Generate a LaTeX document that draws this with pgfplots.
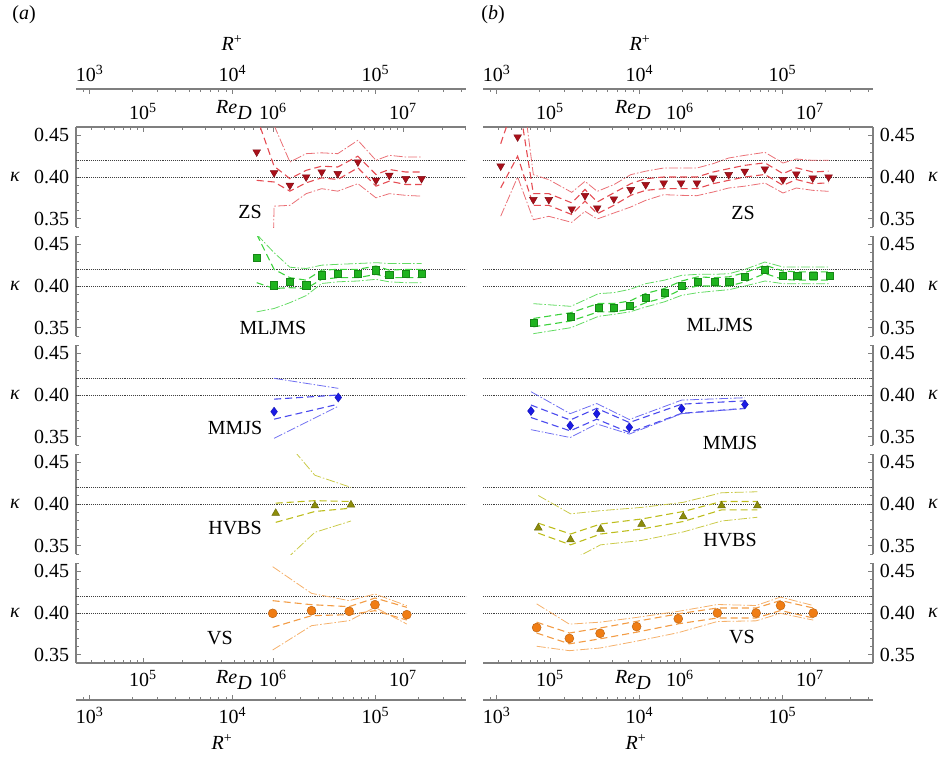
\documentclass[border=0pt]{standalone}
\usepackage{fontspec}
\setmainfont{Liberation Serif}
\usepackage{pgfplots}
\usepackage{pgfplotstable}
\pgfplotsset{compat=1.18}

% columns: Re, kappa, inner upper/lower (dashed), outer upper/lower (dash-dot)
\pgfplotstableread{
Re     k      iu     il     ou     ol
7.5e5  0.430  0.472  0.396  nan    nan
1.0e6  nan    nan    nan    nan    0.300
1.02e6 0.405  0.413  0.394  0.462  0.365
1.35e6 0.390  0.398  0.383  0.418  0.366
1.8e6  0.400  0.408  0.393  0.428  0.380
2.37e6 0.406  0.413  0.399  0.429  0.386
3.15e6 0.404  0.412  0.397  0.428  0.383
4.5e6  0.418  0.425  0.411  0.444  0.392
6.2e6  0.396  0.403  0.389  0.420  0.375
7.85e6 0.402  0.409  0.395  0.426  0.380
1.05e7 0.398  0.406  0.391  0.424  0.378
1.39e7 0.398  0.406  0.391  0.424  0.377
}\zsA
\pgfplotstableread{
Re     k      iu     il     ou     ol
7.5e5  0.434  0.462  0.404  0.462  0.369
1.02e6 0.401  0.420  0.397  0.440  0.373
1.35e6 0.405  0.410  0.398  0.4225 0.380
1.8e6  0.401  0.407  0.397  0.421  0.3885
2.37e6 0.413  0.419  0.408  0.425  0.403
3.15e6 0.415  0.420  0.410  0.426  0.405
4.5e6  0.415  0.420  0.410  0.427  0.406
6.2e6  0.419  0.424  0.414  0.428  0.408
7.85e6 0.414  0.419  0.410  0.427  0.405
1.05e7 0.415  0.420  0.410  0.427  0.404
1.39e7 0.415  0.420  0.410  0.427  0.404
}\mlA
\pgfplotstableread{
Re     k      iu     il     ou     ol
1.02e6 0.380  0.395  0.371  0.420  0.348
3.18e6 0.397  0.400  0.389  0.408  0.3865
}\mmA
\pgfplotstableread{
Re     k      iu     il     ou     ol
1.05e6 0.389  0.401  0.378  0.490  0.322
2.1e6  0.398  0.404  0.391  0.4345 0.366
3.98e6 0.399  0.403  0.395  0.420  0.3796
}\hvA
\pgfplotstableread{
Re     k      iu     il     ou     ol
9.95e5 0.3996 0.4148 0.3828 0.4556 0.3556
1.98e6 0.4028 0.410  0.3968 0.4236 0.3848
3.86e6 0.402  0.4076 0.398  0.4148 0.3908
6.09e6 0.410  0.418  0.4028 0.4228 0.4068
1.07e7 0.398  0.4068 0.3916 0.4088 0.3868
}\vsA
\pgfplotstableread{
Re     k      iu     il     ou     ol
4.18e4 0.413  0.440  0.387  nan    0.353
5.64e4 0.448  0.500  0.425  0.550  0.400
7.45e4 0.3728 0.380  0.366  0.4028 0.3488
9.8e4  0.3728 0.380  0.366  0.3968 0.3528
1.47e5 0.3616 0.369  0.355  0.3816 0.3456
1.86e5 0.3776 0.385  0.371  0.3948 0.3588
2.31e5 0.3628 0.370  0.356  0.3828 0.3496
3.1e5  0.3736 0.381  0.366  0.3908 0.3568
4.18e5 0.3848 0.392  0.378  0.4028 0.364
5.45e5 0.3908 0.398  0.384  0.407  0.372
7.5e5  0.3928 0.400  0.386  0.4108 0.3788
1.02e6 0.3928 0.400  0.386  0.4108 0.378
1.35e6 0.3928 0.400  0.386  0.4108 0.3776
1.8e6  0.3988 0.406  0.392  0.416  0.382
2.37e6 0.4028 0.410  0.396  0.4228 0.3868
3.15e6 0.4068 0.414  0.400  0.426  0.389
4.5e6  0.4096 0.417  0.403  0.4296 0.3928
6.2e6  0.3968 0.404  0.390  0.4168 0.3808
7.85e6 0.4036 0.411  0.397  0.4216 0.3868
1.05e7 0.3988 0.406  0.392  0.420  0.384
1.39e7 0.400  0.407  0.393  0.420  0.3828
}\zsB
\pgfplotstableread{
Re     k      iu     il     ou     ol
7.45e4 0.3556 0.361  0.351  0.3788 0.3428
1.45e5 0.3628 0.368  0.358  0.3756 0.350
2.36e5 0.374  0.379  0.369  0.3908 0.3636
3.1e5  0.374  0.379  0.369  0.392  0.366
4.12e5 0.3768 0.382  0.372  0.396  0.369
5.45e5 0.3856 0.391  0.380  0.4028 0.3748
7.59e5 0.3916 0.397  0.386  0.407  0.381
1.03e6 0.4008 0.406  0.396  0.4128 0.3888
1.37e6 0.4056 0.411  0.400  0.414  0.392
1.84e6 0.4048 0.410  0.400  0.414  0.394
2.39e6 0.4056 0.411  0.400  0.4148 0.3956
3.16e6 0.4108 0.416  0.405  0.420  0.400
4.5e6  0.420  0.425  0.415  0.4288 0.406
6.2e6  0.4128 0.418  0.408  0.4228 0.4028
7.98e6 0.412  0.417  0.407  0.4228 0.4028
1.06e7 0.412  0.417  0.407  0.4228 0.4028
1.41e7 0.412  0.417  0.407  0.4228 0.4028
}\mlB
\pgfplotstableread{
Re     k      iu     il     ou     ol
7.14e4 0.3808 0.388  0.373  0.404  0.3584
1.43e5 0.3633 0.370  0.357  0.3776 0.349
2.29e5 0.3776 0.384  0.371  0.3898 0.3653
4.08e5 0.3612 0.367  0.355  0.3706 0.3531
1.03e6 0.3837 0.389  0.378  0.3939 0.3776
3.16e6 0.3886 0.393  0.384  0.3967 0.3837
}\mmB
\pgfplotstableread{
Re     k      iu     il     ou     ol
8.13e4 0.3714 0.377  0.365  0.4102 nan
1.44e5 0.3572 0.364  0.351  0.3882 0.332
2.45e5 0.3698 0.376  0.364  0.392  0.351
5.07e5 0.3759 0.382  0.370  0.3959 0.3563
1.06e6 0.3849 0.391  0.379  0.402  0.3665
2.09e6 0.398  0.403  0.393  0.4135 0.3796
3.94e6 0.398  0.403  0.393  0.4147 0.3841
}\hvB
\pgfplotstableread{
Re     k      iu     il     ou     ol
7.9e4  0.3825 0.389  0.376  0.411  0.3601
1.41e5 0.3695 0.376  0.363  0.3866 0.3548
2.43e5 0.3756 0.382  0.369  0.389  0.358
4.64e5 0.3837 0.390  0.377  0.3947 0.3662
9.7e5  0.3931 0.399  0.387  0.402  0.3764
1.94e6 0.400  0.406  0.394  0.4102 0.3898
3.85e6 0.400  0.406  0.394  0.409  0.3906
5.94e6 0.409  0.415  0.403  0.4191 0.3996
1.06e7 0.400  0.406  0.394  0.409  0.3915
}\vsB

\definecolor{zsL}{HTML}{E54B52}\definecolor{zsM}{HTML}{A8101A}
\definecolor{mlL}{HTML}{3CD23C}\definecolor{mlM}{HTML}{1FB31F}
\definecolor{mmL}{HTML}{4A4AEE}\definecolor{mmM}{HTML}{1A1AE6}
\definecolor{hvL}{HTML}{BDBD1C}\definecolor{hvM}{HTML}{8C8C0A}
\definecolor{vsL}{HTML}{F39C45}\definecolor{vsM}{HTML}{F07D14}
\definecolor{axgray}{HTML}{7F7F7F}

\newcommand{\fsz}{\fontsize{20}{24}\selectfont}
\newcommand{\pw}[1]{10\textsuperscript{#1}}

% common look, set once for every axis
\pgfplotsset{
  scale only axis, tick align=inside,
  axis line style={axgray, line width=1.1pt},
  major tick length=5pt, minor tick length=3pt,
  every major tick/.append style={axgray, line width=0.8pt},
  every minor tick/.append style={axgray, line width=0.6pt},
  every tick label/.append style={font=\fsz, text=black},
}

\newcommand{\refl}{%
  \addplot[black!75, densely dotted, line width=0.9pt] coordinates {(30549,0.40) (3.0549e7,0.40)};
  \addplot[black!75, densely dotted, line width=0.9pt] coordinates {(30549,0.42) (3.0549e7,0.42)};}
% #1 table, #2 line colour, #3 marker colour, #4 mark options
\newcommand{\kseries}[4]{%
  \addplot[#2, line width=1.1pt, dash pattern=on 7pt off 4pt] table[x=Re, y=iu] {#1};
  \addplot[#2, line width=1.1pt, dash pattern=on 7pt off 4pt] table[x=Re, y=il] {#1};
  \addplot[#2!80, line width=0.8pt, dash pattern=on 9pt off 2pt on 1.5pt off 2pt] table[x=Re, y=ou] {#1};
  \addplot[#2!80, line width=0.8pt, dash pattern=on 9pt off 2pt on 1.5pt off 2pt] table[x=Re, y=ol] {#1};
  \addplot[only marks, #4, fill=#3, draw=#3!75!black] table[x=Re, y=k] {#1};}
\newcommand{\kblank}{\addplot[draw=none] coordinates {(1e4,0.5)};}

\begin{document}
\fsz
\begin{tikzpicture}[x=1pt, y=-1pt]
\useasboundingbox (0,0) rectangle (944,760);

% ---------- column (a) ----------
\begin{axis}[width=390pt, height=6pt, xmode=log, xmin=803.5, xmax=431519, ymin=0, ymax=1,
  axis y line=none, axis x line*=top, xtick={1e3,1e4,1e5}, xticklabels={\pw{3},\pw{4},\pw{5}},
  minor xtick={900,2e3,3e3,4e3,5e3,6e3,7e3,8e3,9e3,2e4,3e4,4e4,5e4,6e4,7e4,8e4,9e4,2e5,3e5,4e5},
  at={(76pt,-89pt)}, anchor=north west]
\kblank
\end{axis}
\begin{axis}[width=390pt, height=6pt, xmode=log, xmin=803.5, xmax=431519, ymin=0, ymax=1,
  axis y line=none, axis x line*=bottom, xtick={1e3,1e4,1e5}, xticklabels={\pw{3},\pw{4},\pw{5}},
  minor xtick={900,2e3,3e3,4e3,5e3,6e3,7e3,8e3,9e3,2e4,3e4,4e4,5e4,6e4,7e4,8e4,9e4,2e5,3e5,4e5},
  at={(76pt,-700pt)}, anchor=south west]
\kblank
\end{axis}

\begin{axis}[width=390pt, height=100pt, xmode=log, xmin=30549, xmax=3.0549e7, ymin=0.34, ymax=0.46,
  ytick={0.35,0.40,0.45}, yticklabels={0.35,0.40,0.45},
  minor ytick={0.34,0.36,0.37,0.38,0.39,0.41,0.42,0.43,0.44,0.46}, axis y line*=left,
  axis x line*=top, xtick={1e5,1e6,1e7}, xticklabels={\pw{5},\pw{6},\pw{7}},
  minor xtick={4e4,5e4,6e4,7e4,8e4,9e4,2e5,3e5,4e5,5e5,6e5,7e5,8e5,9e5,2e6,3e6,4e6,5e6,6e6,7e6,8e6,9e6,2e7,3e7},
  at={(76pt,-127pt)}, anchor=north west]
\refl \kseries{\zsA}{zsL}{zsM}{mark=triangle*, mark size=4.5pt, mark options={rotate=180}}
\end{axis}
\begin{axis}[width=390pt, height=100pt, xmode=log, xmin=30549, xmax=3.0549e7, ymin=0.34, ymax=0.46,
  ytick={0.35,0.40,0.45}, yticklabels={0.35,0.40,0.45},
  minor ytick={0.34,0.36,0.37,0.38,0.39,0.41,0.42,0.43,0.44,0.46}, axis y line*=left,
  axis x line=none, at={(76pt,-236pt)}, anchor=north west]
\refl \kseries{\mlA}{mlL}{mlM}{mark=square*, mark size=3.6pt}
\end{axis}
\begin{axis}[width=390pt, height=100pt, xmode=log, xmin=30549, xmax=3.0549e7, ymin=0.34, ymax=0.46,
  ytick={0.35,0.40,0.45}, yticklabels={0.35,0.40,0.45},
  minor ytick={0.34,0.36,0.37,0.38,0.39,0.41,0.42,0.43,0.44,0.46}, axis y line*=left,
  axis x line=none, at={(76pt,-345pt)}, anchor=north west]
\refl \kseries{\mmA}{mmL}{mmM}{mark=diamond*, mark size=4.5pt}
\end{axis}
\begin{axis}[width=390pt, height=100pt, xmode=log, xmin=30549, xmax=3.0549e7, ymin=0.34, ymax=0.46,
  ytick={0.35,0.40,0.45}, yticklabels={0.35,0.40,0.45},
  minor ytick={0.34,0.36,0.37,0.38,0.39,0.41,0.42,0.43,0.44,0.46}, axis y line*=left,
  axis x line=none, at={(76pt,-454pt)}, anchor=north west]
\refl \kseries{\hvA}{hvL}{hvM}{mark=triangle*, mark size=4.5pt}
\end{axis}
\begin{axis}[width=390pt, height=100pt, xmode=log, xmin=30549, xmax=3.0549e7, ymin=0.34, ymax=0.46,
  ytick={0.35,0.40,0.45}, yticklabels={0.35,0.40,0.45},
  minor ytick={0.34,0.36,0.37,0.38,0.39,0.41,0.42,0.43,0.44,0.46}, axis y line*=left,
  axis x line*=bottom, xtick={1e5,1e6,1e7}, xticklabels={\pw{5},\pw{6},\pw{7}},
  minor xtick={4e4,5e4,6e4,7e4,8e4,9e4,2e5,3e5,4e5,5e5,6e5,7e5,8e5,9e5,2e6,3e6,4e6,5e6,6e6,7e6,8e6,9e6,2e7,3e7},
  at={(76pt,-563pt)}, anchor=north west]
\refl \kseries{\vsA}{vsL}{vsM}{mark=*, mark size=4.5pt}
\end{axis}

% ---------- column (b) ----------
\begin{axis}[width=390pt, height=6pt, xmode=log, xmin=803.5, xmax=431519, ymin=0, ymax=1,
  axis y line=none, axis x line*=top, xtick={1e3,1e4,1e5}, xticklabels={\pw{3},\pw{4},\pw{5}},
  minor xtick={900,2e3,3e3,4e3,5e3,6e3,7e3,8e3,9e3,2e4,3e4,4e4,5e4,6e4,7e4,8e4,9e4,2e5,3e5,4e5},
  at={(483pt,-89pt)}, anchor=north west]
\kblank
\end{axis}
\begin{axis}[width=390pt, height=6pt, xmode=log, xmin=803.5, xmax=431519, ymin=0, ymax=1,
  axis y line=none, axis x line*=bottom, xtick={1e3,1e4,1e5}, xticklabels={\pw{3},\pw{4},\pw{5}},
  minor xtick={900,2e3,3e3,4e3,5e3,6e3,7e3,8e3,9e3,2e4,3e4,4e4,5e4,6e4,7e4,8e4,9e4,2e5,3e5,4e5},
  at={(483pt,-700pt)}, anchor=south west]
\kblank
\end{axis}

\begin{axis}[width=390pt, height=100pt, xmode=log, xmin=30549, xmax=3.0549e7, ymin=0.34, ymax=0.46,
  ytick={0.35,0.40,0.45}, yticklabels={0.35,0.40,0.45},
  minor ytick={0.34,0.36,0.37,0.38,0.39,0.41,0.42,0.43,0.44,0.46}, axis y line*=right,
  axis x line*=top, xtick={1e5,1e6,1e7}, xticklabels={\pw{5},\pw{6},\pw{7}},
  minor xtick={4e4,5e4,6e4,7e4,8e4,9e4,2e5,3e5,4e5,5e5,6e5,7e5,8e5,9e5,2e6,3e6,4e6,5e6,6e6,7e6,8e6,9e6,2e7,3e7},
  at={(483pt,-127pt)}, anchor=north west]
\refl \kseries{\zsB}{zsL}{zsM}{mark=triangle*, mark size=4.5pt, mark options={rotate=180}}
\end{axis}
\begin{axis}[width=390pt, height=100pt, xmode=log, xmin=30549, xmax=3.0549e7, ymin=0.34, ymax=0.46,
  ytick={0.35,0.40,0.45}, yticklabels={0.35,0.40,0.45},
  minor ytick={0.34,0.36,0.37,0.38,0.39,0.41,0.42,0.43,0.44,0.46}, axis y line*=right,
  axis x line=none, at={(483pt,-236pt)}, anchor=north west]
\refl \kseries{\mlB}{mlL}{mlM}{mark=square*, mark size=3.6pt}
\end{axis}
\begin{axis}[width=390pt, height=100pt, xmode=log, xmin=30549, xmax=3.0549e7, ymin=0.34, ymax=0.46,
  ytick={0.35,0.40,0.45}, yticklabels={0.35,0.40,0.45},
  minor ytick={0.34,0.36,0.37,0.38,0.39,0.41,0.42,0.43,0.44,0.46}, axis y line*=right,
  axis x line=none, at={(483pt,-345pt)}, anchor=north west]
\refl \kseries{\mmB}{mmL}{mmM}{mark=diamond*, mark size=4.5pt}
\end{axis}
\begin{axis}[width=390pt, height=100pt, xmode=log, xmin=30549, xmax=3.0549e7, ymin=0.34, ymax=0.46,
  ytick={0.35,0.40,0.45}, yticklabels={0.35,0.40,0.45},
  minor ytick={0.34,0.36,0.37,0.38,0.39,0.41,0.42,0.43,0.44,0.46}, axis y line*=right,
  axis x line=none, at={(483pt,-454pt)}, anchor=north west]
\refl \kseries{\hvB}{hvL}{hvM}{mark=triangle*, mark size=4.5pt}
\end{axis}
\begin{axis}[width=390pt, height=100pt, xmode=log, xmin=30549, xmax=3.0549e7, ymin=0.34, ymax=0.46,
  ytick={0.35,0.40,0.45}, yticklabels={0.35,0.40,0.45},
  minor ytick={0.34,0.36,0.37,0.38,0.39,0.41,0.42,0.43,0.44,0.46}, axis y line*=right,
  axis x line*=bottom, xtick={1e5,1e6,1e7}, xticklabels={\pw{5},\pw{6},\pw{7}},
  minor xtick={4e4,5e4,6e4,7e4,8e4,9e4,2e5,3e5,4e5,5e5,6e5,7e5,8e5,9e5,2e6,3e6,4e6,5e6,6e6,7e6,8e6,9e6,2e7,3e7},
  at={(483pt,-563pt)}, anchor=north west]
\refl \kseries{\vsB}{vsL}{vsM}{mark=*, mark size=4.5pt}
\end{axis}

% ---------- labels ----------
\node at (24,15) {(\textit{a})};
\node at (493,15) {(\textit{b})};
\node at (232,43) {\textit{R}\textsuperscript{+}};
\node at (640,43) {\textit{R}\textsuperscript{+}};
\node at (222,742) {\textit{R}\textsuperscript{+}};
\node at (636,742) {\textit{R}\textsuperscript{+}};
\node at (234,110) {\textit{Re}\raisebox{-0.7ex}{\textit{D}}};
\node at (633,110) {\textit{Re}\raisebox{-0.7ex}{\textit{D}}};
\node at (234,680) {\textit{Re}\raisebox{-0.7ex}{\textit{D}}};
\node at (633,680) {\textit{Re}\raisebox{-0.7ex}{\textit{D}}};
\foreach \yy in {177,286,395,504,613} {
  \node at (15,\yy) {\textit{κ}};
  \node at (933,\yy) {\textit{κ}};
}
\node at (250,212) {ZS};
\node at (273,328) {MLJMS};
\node at (235,428) {MMJS};
\node at (235,528) {HVBS};
\node at (220,638) {VS};
\node at (743,213) {ZS};
\node at (720,325) {MLJMS};
\node at (730,443) {MMJS};
\node at (730,540) {HVBS};
\node at (742,637) {VS};
\end{tikzpicture}
\end{document}
